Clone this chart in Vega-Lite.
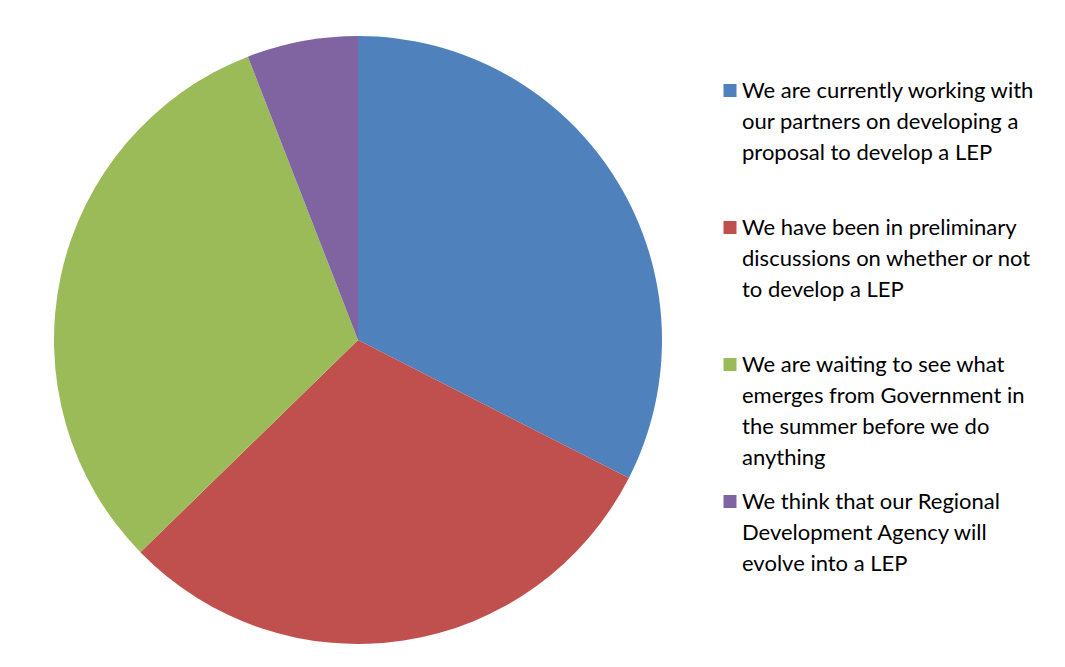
{
  "$schema": "https://vega.github.io/schema/vega-lite/v6.json",
  "width": 608,
  "height": 608,
  "padding": {"left": 54, "top": 36, "right": 0, "bottom": 0},
  "background": "white",
  "data": {"values": [
    {"order": 1, "response": "We are currently working with|our partners on developing a|proposal to develop a LEP|", "share": 32.5},
    {"order": 2, "response": "We have been in preliminary|discussions on whether or not|to develop a LEP|", "share": 30.2},
    {"order": 3, "response": "We are waiting to see what|emerges from Government in|the summer before we do|anything", "share": 31.4},
    {"order": 4, "response": "We think that our Regional|Development Agency will|evolve into a LEP|", "share": 5.9}
  ]},
  "mark": {"type": "arc", "outerRadius": 304},
  "encoding": {
    "theta": {"field": "share", "type": "quantitative", "stack": true},
    "order": {"field": "order", "type": "quantitative"},
    "color": {
      "field": "response",
      "type": "nominal",
      "sort": {"field": "order"},
      "scale": {"range": ["#4F81BD", "#C0504D", "#9BBB59", "#8064A2"]},
      "legend": {
        "title": null,
        "orient": "none",
        "legendX": 665,
        "legendY": 51,
        "padding": 0,
        "symbolType": "M-1,-2.154H1V-0.154H-1Z",
        "symbolSize": 169,
        "symbolStrokeWidth": 0,
        "symbolOpacity": 1,
        "labelExpr": "split(datum.label, '|')",
        "labelFont": "Lato",
        "labelFontSize": 22,
        "labelColor": "#000000",
        "labelLimit": 400,
        "labelOffset": 1,
        "labelBaseline": "alphabetic",
        "rowPadding": 22
      }
    }
  },
  "config": {
    "view": {"stroke": null},
    "style": {"guide-label": {"lineHeight": 31}}
  }
}
